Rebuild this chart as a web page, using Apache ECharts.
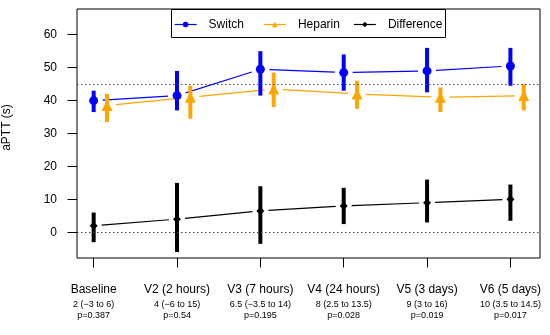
<!DOCTYPE html>
<html>
<head>
<meta charset="utf-8">
<script src="https://cdn.jsdelivr.net/npm/echarts@6/dist/echarts.min.js"></script>
<style>html,body{margin:0;padding:0;background:#fff}#c{width:550px;height:335px}</style>
</head>
<body>
<div id="c"></div>
<script>
var categories = ['Baseline', 'V2 (2 hours)', 'V3 (7 hours)', 'V4 (24 hours)', 'V5 (3 days)', 'V6 (5 days)'];
var diffLabels = ['2 (\u22123 to 6)', '4 (\u22126 to 15)', '6.5 (\u22123.5 to 14)', '8 (2.5 to 13.5)', '9 (3 to 16)', '10 (3.5 to 14.5)'];
var pLabels = ['p=0.387', 'p=0.54', 'p=0.195', 'p=0.028', 'p=0.019', 'p=0.017'];
var yTicks = [0, 10, 20, 30, 40, 50, 60];
var refLines = [45, 0];
var seriesNames = ['Switch', 'Heparin', 'Difference'];

var switchMean = [40, 41.5, 49.5, 48.5, 49, 50.5];
var switchLow = [36.5, 37, 41.5, 43, 42.5, 44.5];
var switchHigh = [43, 49, 55, 54, 56, 56];

var heparinMean = [38.5, 41, 43.5, 42, 41, 41.5];
var heparinLow = [33.5, 34.5, 38, 37.5, 36.5, 37];
var heparinHigh = [42, 44.5, 48.5, 46, 44, 45];

var diffMean = [2, 4, 6.5, 8, 9, 10];
var diffLow = [-3, -6, -3.5, 2.5, 3, 3.5];
var diffHigh = [6, 15, 14, 13.5, 16, 14.5];

var heparinOffset = 0.16;
var FONT = "'Liberation Sans', Arial, Helvetica, sans-serif";

function xs(off) { return categories.map(function (c, i) { return i + 1 + off; }); }
function pts(x, m) { return m.map(function (v, i) { return [x[i], v]; }); }
function bars(x, lo, hi) { return lo.map(function (v, i) { return [x[i], v, hi[i]]; }); }
function segs(x, m) {
  var out = [];
  for (var i = 0; i < m.length - 1; i++) out.push([x[i], m[i], x[i + 1], m[i + 1]]);
  return out;
}

function barSeries(x, lo, hi, color, w) {
  return {
    type: 'custom', silent: true, z: 2,
    data: bars(x, lo, hi),
    encode: { x: 0, y: [1, 2] },
    renderItem: function (params, api) {
      var a = api.coord([api.value(0), api.value(1)]);
      var b = api.coord([api.value(0), api.value(2)]);
      return { type: 'line', shape: { x1: a[0], y1: a[1], x2: b[0], y2: b[1] },
        style: { stroke: color, lineWidth: w, lineCap: 'butt' } };
    }
  };
}
function gapLineSeries(x, m, color, gap) {
  return {
    type: 'custom', silent: true, z: 1,
    data: segs(x, m),
    encode: { x: [0, 2], y: [1, 3] },
    renderItem: function (params, api) {
      var a = api.coord([api.value(0), api.value(1)]);
      var b = api.coord([api.value(2), api.value(3)]);
      var dx = b[0] - a[0], dy = b[1] - a[1];
      var L = Math.sqrt(dx * dx + dy * dy);
      var ux = dx / L, uy = dy / L;
      return { type: 'line', shape: { x1: a[0] + ux * gap, y1: a[1] + uy * gap, x2: b[0] - ux * gap, y2: b[1] - uy * gap },
        style: { stroke: color, lineWidth: 1.2 } };
    }
  };
}
function pointSeries(name, x, m, color, symbol, size, extra) {
  var s = {
    name: name, type: 'line', z: 3,
    data: pts(x, m),
    symbol: symbol, symbolSize: size, showSymbol: true,
    lineStyle: { color: color, width: 1.2, opacity: 0 },
    itemStyle: { color: color, borderWidth: 0 },
    silent: true
  };
  if (extra) for (var k in extra) s[k] = extra[k];
  return s;
}
function legendFor(name, left) {
  return {
    data: [name], orient: 'horizontal', left: left, top: 18.5, padding: 0,
    itemWidth: 22, itemHeight: 7, itemGap: 0, z: 20,
    lineStyle: { opacity: 1, width: 1.2 },
    textStyle: { fontSize: 12, color: '#000', fontFamily: FONT, padding: [0, 0, 0, 7] },
    selectedMode: false
  };
}

var xSw = xs(0), xHe = xs(heparinOffset), xDi = xs(0);

var chart = echarts.init(document.getElementById('c'), null, { renderer: 'canvas' });
chart.setOption({
  animation: false,
  textStyle: { fontFamily: FONT },
  grid: { left: 77, right: 10, top: 9, bottom: 77, containLabel: false, outerBoundsMode: 'none',
    show: true, borderColor: '#000', borderWidth: 1, backgroundColor: 'transparent' },
  graphic: [{
    type: 'rect', z: 15, silent: true,
    shape: { x: 171.5, y: 9.5, width: 274, height: 28 },
    style: { fill: '#fff', stroke: '#000', lineWidth: 1 }
  }],
  legend: [legendFor(seriesNames[0], 174), legendFor(seriesNames[1], 263.3), legendFor(seriesNames[2], 353.3)],
  xAxis: {
    type: 'value', min: 0.8, max: 6.355,
    splitLine: { show: false },
    axisLine: { show: false, onZero: false },
    axisTick: { show: true, inside: false, length: 9.5, lineStyle: { color: '#000', width: 1 }, customValues: xs(0) },
    axisLabel: {
      customValues: xs(0), margin: 22.6, color: '#000',
      formatter: function (v) {
        var i = Math.round(v) - 1;
        return '{a|' + categories[i] + '}\n{b|' + diffLabels[i] + '}\n{b|' + pLabels[i] + '}';
      },
      rich: {
        a: { fontSize: 12, lineHeight: 18, color: '#000', fontFamily: FONT },
        b: { fontSize: 9, lineHeight: 11, color: '#000', fontFamily: FONT }
      }
    }
  },
  yAxis: {
    type: 'value', min: -7.8, max: 67.8,
    name: 'aPTT (s)', nameLocation: 'middle', nameRotate: 90, nameGap: 64,
    nameTextStyle: { fontSize: 12, color: '#000', fontFamily: FONT, padding: [0, 0, 0, 12] },
    splitLine: { show: false },
    axisLine: { show: false, onZero: false },
    axisTick: { show: true, inside: false, length: 9.5, lineStyle: { color: '#000', width: 1 }, customValues: yTicks },
    axisLabel: { customValues: yTicks, margin: 20, fontSize: 12, color: '#000', fontFamily: FONT }
  },
  series: [
    gapLineSeries(xSw, switchMean, '#0000FF', 9),
    gapLineSeries(xHe, heparinMean, '#FFA500', 9),
    gapLineSeries(xDi, diffMean, '#000000', 8),
    barSeries(xSw, switchLow, switchHigh, '#0000FF', 4),
    barSeries(xHe, heparinLow, heparinHigh, '#FFA500', 4),
    barSeries(xDi, diffLow, diffHigh, '#000000', 4),
    pointSeries('Switch', xSw, switchMean, '#0000FF', 'circle', 9),
    pointSeries('Heparin', xHe, heparinMean, '#FFA500', 'triangle', 11),
    pointSeries('Difference', xDi, diffMean, '#000000', 'diamond', 8, {
      markLine: {
        silent: true, symbol: 'none', label: { show: false },
        lineStyle: { type: [1.5, 2.5], color: '#444', width: 1 },
        data: refLines.map(function (v) { return { yAxis: v }; })
      }
    })
  ]
});
</script>
</body>
</html>
